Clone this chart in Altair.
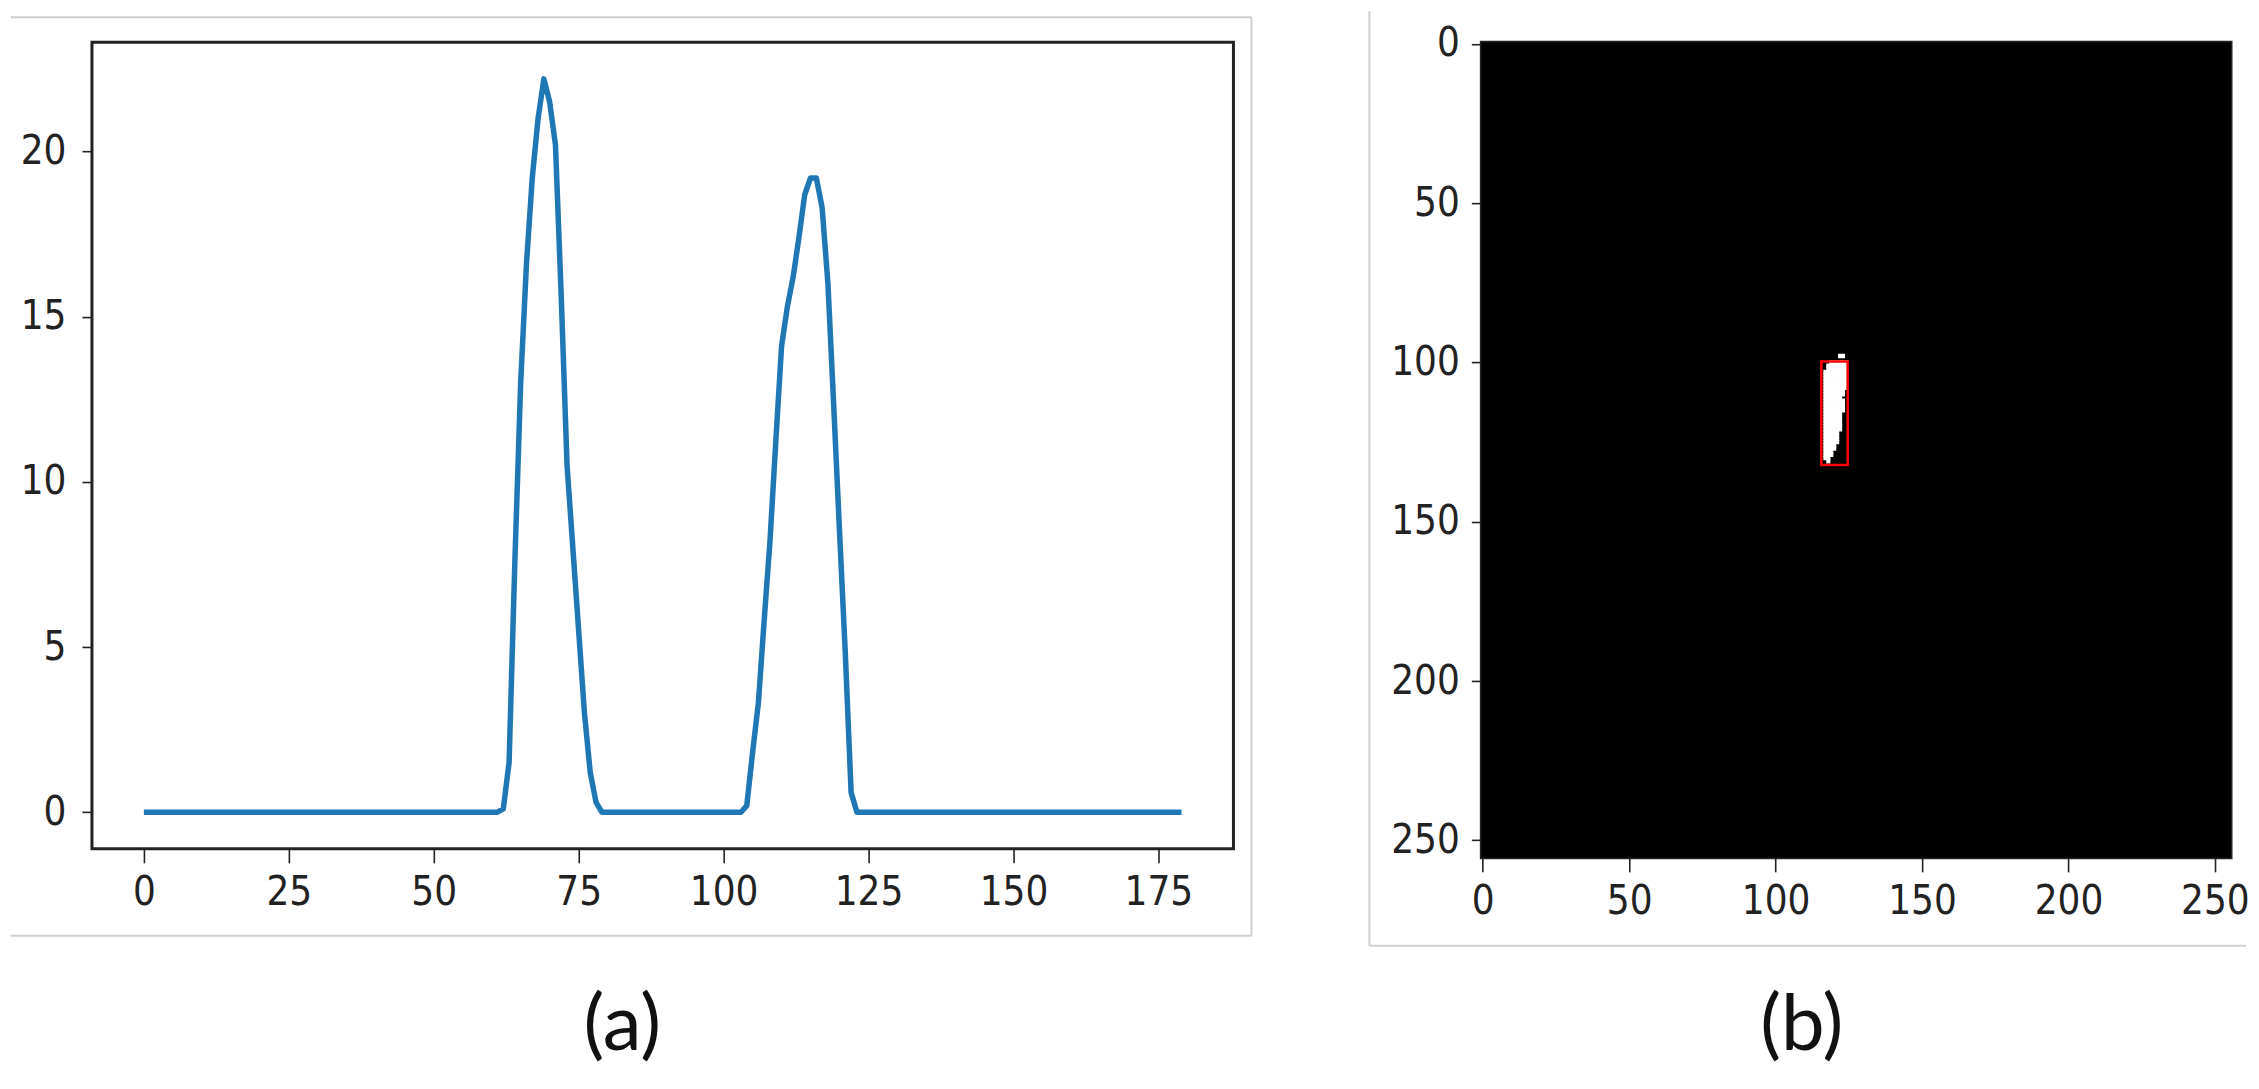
import altair as alt
import pandas as pd

LABEL_FONT = "Liberation Sans Narrow, DejaVu Sans Condensed, DejaVu Sans"
CAPTION_FONT = "Lato"

# ---------------- panel (a): 1-D profile ----------------
n_points = 180
peak1_start = 62
peak1 = [0.1, 1.5, 7.6, 13.0, 16.6, 19.2, 21.0, 22.2, 21.5, 20.2,
         15.6, 10.5, 8.0, 5.5, 3.0, 1.2, 0.3, 0.0]          # x = 62 .. 79
peak2_start = 103
peak2 = [0.0, 0.2, 1.8, 3.3, 5.8, 8.2, 11.2, 14.1, 15.3, 16.2, 17.4,
         18.7, 19.2, 19.2, 18.3, 16.0, 12.3, 8.5, 4.8, 0.6, 0.0]  # x = 103 .. 123
profile = ([0.0] * peak1_start + peak1
           + [0.0] * (peak2_start - peak1_start - len(peak1))
           + peak2
           + [0.0] * (n_points - peak2_start - len(peak2)))
x_ticks_a = [0, 25, 50, 75, 100, 125, 150, 175]
y_ticks_a = [0, 5, 10, 15, 20]

# ---------------- panel (b): binary image ----------------
image_size = 256
blob_rows = [98, 100, 101, 102, 103, 104, 105, 106, 107, 108, 109, 110, 111,
             112, 113, 114, 115, 116, 117, 118, 119, 120, 121, 122, 123, 124,
             125, 126, 127, 128, 129, 130, 131]
blob_start = [122, 119, 118, 118, 117, 117, 117, 117, 117, 117, 117, 117, 117,
              117, 117, 117, 117, 117, 117, 117, 117, 117, 117, 117, 117, 117,
              117, 117, 117, 117, 117, 117, 118]
blob_end = [123, 124, 124, 124, 124, 124, 124, 124, 124, 124, 123, 123, 122,
            123, 123, 123, 123, 122, 122, 122, 122, 122, 122, 121, 121, 121,
            121, 120, 120, 119, 119, 118, 118]
box_x = [115.6, 124.6]
box_y = [99.7, 132.2]
ticks_b = [0, 50, 100, 150, 200, 250]

# ---------------- layout sizes ----------------
W_A, H_A = 1142, 807
W_B, H_B = 750, 816

df_line = pd.DataFrame({"x": list(range(n_points)), "v": profile})
one = pd.DataFrame({"k": [0]})

x_a = alt.X("x:Q",
            scale=alt.Scale(domain=[-0.05 * (n_points - 1), 1.05 * (n_points - 1)], nice=False, zero=False),
            axis=alt.Axis(values=x_ticks_a, title="(a)", tickSize=14, labelPadding=10,
                          titleX=530, titleY=178, titleBaseline="middle", titleAlign="center"))
vmax = max(profile)
y_a = alt.Y("v:Q",
            scale=alt.Scale(domain=[-0.05 * vmax, 1.05 * vmax], nice=False, zero=False),
            axis=alt.Axis(values=y_ticks_a, title=None, tickSize=10, labelPadding=16))

line = alt.Chart(df_line).mark_line(color="#1f77b4", strokeWidth=5.5, strokeJoin="round").encode(x=x_a, y=y_a)

border_color = "#cfcfcf"
a_top = alt.Chart(one).mark_rule(color=border_color, strokeWidth=2).encode(
    x=alt.value(-81), x2=alt.value(1160), y=alt.value(-25))
a_right = alt.Chart(one).mark_rule(color=border_color, strokeWidth=2).encode(
    x=alt.value(1160), y=alt.value(-25), y2=alt.value(894))
a_bottom = alt.Chart(one).mark_rule(color=border_color, strokeWidth=2).encode(
    x=alt.value(-81), x2=alt.value(1160), y=alt.value(894))

panel_a = alt.layer(a_top, a_right, a_bottom, line).properties(width=W_A, height=H_A)

# image panel
half = 0.5
df_bg = pd.DataFrame({"x0": [-half], "x1": [image_size - half], "y0": [-half], "y1": [image_size - half]})
df_blob = pd.DataFrame({
    "x0": [s - half for s in blob_start],
    "x1": [e + half for e in blob_end],
    "y0": [r - half for r in blob_rows],
    "y1": [r + half for r in blob_rows],
})
df_box = pd.DataFrame({"x0": [box_x[0]], "x1": [box_x[1]], "y0": [box_y[0]], "y1": [box_y[1]]})

sx = alt.Scale(domain=[-half, image_size - half], nice=False, zero=False)
sy = alt.Scale(domain=[-half, image_size - half], nice=False, zero=False, reverse=True)
x_b = alt.X("x0:Q", scale=sx,
            axis=alt.Axis(values=ticks_b, title="(b)", tickSize=14, labelPadding=10,
                          titleX=320, titleY=169, titleBaseline="middle", titleAlign="center"))
y_b = alt.Y("y0:Q", scale=sy, axis=alt.Axis(values=ticks_b, title=None, tickSize=10, labelPadding=12))

bg = alt.Chart(df_bg).mark_rect(color="black").encode(x=x_b, x2="x1:Q", y=y_b, y2="y1:Q")
blob = alt.Chart(df_blob).mark_rect(color="white", stroke="white", strokeWidth=1.2).encode(
    x=x_b, x2="x1:Q", y=y_b, y2="y1:Q")
box = alt.Chart(df_box).mark_rect(fill="red", fillOpacity=0, stroke="red", strokeWidth=2.6).encode(
    x=x_b, x2="x1:Q", y=y_b, y2="y1:Q")

b_left = alt.Chart(one).mark_rule(color=border_color, strokeWidth=2).encode(
    x=alt.value(-112), y=alt.value(-31), y2=alt.value(904))
b_bottom = alt.Chart(one).mark_rule(color=border_color, strokeWidth=2).encode(
    x=alt.value(-112), x2=alt.value(765), y=alt.value(904))

panel_b = alt.layer(b_left, b_bottom, bg, blob, box).properties(width=W_B, height=H_B)

chart = alt.hconcat(panel_a, panel_b, spacing=248, bounds="flush").properties(
    padding={"left": 0, "top": 0, "right": 0, "bottom": 0}
).configure_view(
    stroke="#222222", strokeWidth=3
).configure_axis(
    labelFont=LABEL_FONT, labelFontSize=40, labelColor="#222222",
    tickColor="#222222", tickWidth=1.6, domain=False, grid=False,
    titleFont=CAPTION_FONT, titleFontSize=78, titleFontWeight="normal", titleColor="#111111"
)

chart.save("out.html", embed_options={"renderer": "svg", "actions": False})
